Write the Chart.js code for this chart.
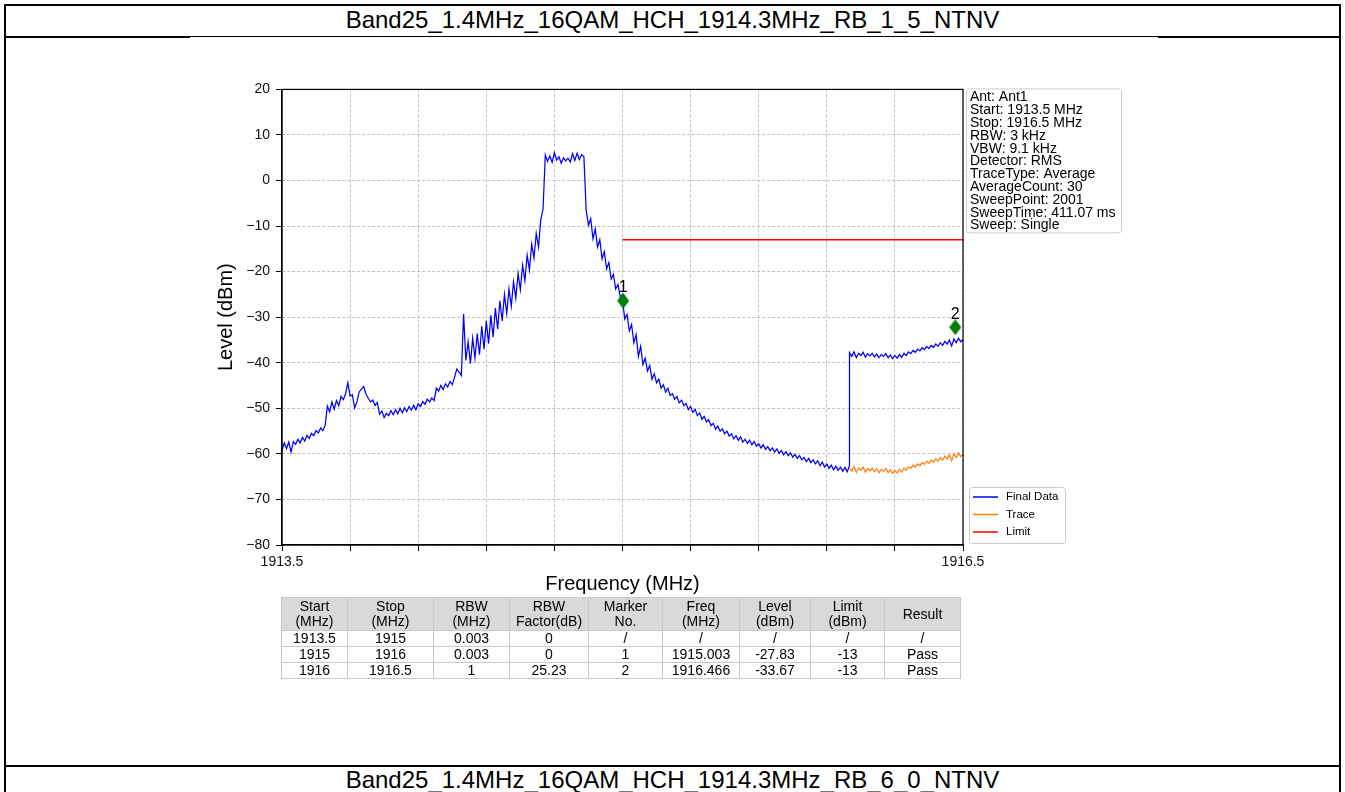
<!DOCTYPE html>
<html>
<head>
<meta charset="utf-8">
<script src="https://cdn.jsdelivr.net/npm/chart.js@4.4.0/dist/chart.umd.min.js"></script>
<style>
  html, body { margin: 0; padding: 0; background: #fff; }
  body { width: 1345px; height: 792px; position: relative; overflow: hidden; font-family: "Liberation Sans", Arial, sans-serif; }
  .line { position: absolute; background: #000; }
  .title { position: absolute; left: 0; width: 1345px; text-align: center; font-size: 24px; line-height: 26px; color: #000; }
  #chartBox { position: absolute; left: 200px; top: 75px; width: 940px; height: 530px; }
  #tbl { position: absolute; left: 281px; top: 597px; border-collapse: collapse; table-layout: fixed; font-size: 14px; color: #000; }
  #tbl th, #tbl td { border: 1px solid #c8c8c8; text-align: center; padding: 0; white-space: pre; }
  #tbl th { background: #d9d9d9; font-weight: normal; height: 32px; line-height: 15px; }
  #tbl td { height: 15px; line-height: 15px; }
</style>
</head>
<body>
<div class="line" style="left:4px;top:4px;width:1337px;height:2px"></div>
<div class="line" style="left:4px;top:4px;width:2px;height:788px"></div>
<div class="line" style="left:1339px;top:4px;width:2px;height:788px"></div>
<div class="line" style="left:4px;top:36px;width:1337px;height:1px"></div>
<div class="line" style="left:4px;top:36px;width:186px;height:2px"></div>
<div class="line" style="left:1158px;top:36px;width:183px;height:2px"></div>
<div class="line" style="left:4px;top:765px;width:1337px;height:2px"></div>
<div class="title" id="topTitle" style="top:7px"></div>
<div class="title" id="bottomTitle" style="top:767px"></div>
<div id="chartBox"><canvas id="chart" width="940" height="530"></canvas></div>
<table id="tbl"></table>
<script>
const topTitle = 'Band25_1.4MHz_16QAM_HCH_1914.3MHz_RB_1_5_NTNV';
const bottomTitle = 'Band25_1.4MHz_16QAM_HCH_1914.3MHz_RB_6_0_NTNV';

// sweep segments (MHz), one per table row
const segStart = [1913.5, 1915, 1916];
const segStop = [1915, 1916, 1916.5];

// Final Data levels (dBm), 0.01 MHz apart
const finalSeg1 = [
  -59.2, -57.6, -58.8, -57.4, -59.6, -57.3, -57.9, -56.8, -57.6, -56.4,
  -57.2, -55.9, -56.6, -55.5, -56.0, -54.9, -55.4, -54.3, -54.9, -53.8,
  -49.5, -50.8, -48.6, -50.2, -48.3, -49.4, -47.4, -48.1, -46.8, -44.4,
  -47.3, -47.0, -49.9, -48.6, -46.4, -45.8, -45.2, -46.9, -47.8, -48.6,
  -48.2, -49.4, -48.7, -51.3, -50.6, -52.0, -51.1, -51.6, -50.5, -51.4,
  -50.3, -51.2, -50.0, -51.0, -49.9, -50.7, -49.6, -50.4, -49.3, -50.3,
  -49.0, -49.6, -48.5, -49.1, -48.0, -48.6, -47.7, -48.3, -45.6, -46.2,
  -45.0, -45.9, -44.6, -45.3, -44.1, -44.8, -43.2, -41.4, -42.0, -42.8,
  -29.3, -39.5, -35.4, -40.2, -34.6, -39.0, -33.6, -38.2, -32.0, -37.0,
  -30.8, -35.8, -29.6, -34.4, -28.0, -32.6, -26.4, -30.8, -25.0, -29.2,
  -23.8, -27.6, -22.2, -25.8, -20.4, -24.0, -18.6, -22.0, -16.4, -19.6,
  -14.0, -17.0, -11.6, -14.6, -8.6, -6.2, 5.6, 4.2, 5.4, 4.0,
  6.1, 4.5, 5.2, 3.8, 5.0, 4.3, 4.9, 4.1, 5.9, 4.4,
  6.0, 4.6, 5.7, 5.2, -6.5, -9.8, -8.4, -12.8, -10.6, -14.6,
  -13.0, -17.2, -15.6, -19.4, -18.0, -21.6, -20.6, -23.8, -22.8, -25.6, -25.0
];
const finalSeg2 = [
  -26.2, -30.4, -29.4, -33.0, -31.6, -35.6, -33.8, -38.6, -36.4, -40.4,
  -39.0, -41.8, -40.6, -43.6, -42.4, -44.4, -43.6, -45.6, -44.8, -46.4,
  -45.6, -47.2, -46.8, -48.0, -47.4, -48.8, -48.2, -49.4, -48.9, -50.3,
  -49.6, -50.9, -50.2, -51.6, -51.0, -52.4, -51.8, -53.0, -52.5, -53.8,
  -53.3, -54.6, -53.9, -55.0, -54.5, -55.6, -55.0, -56.1, -55.6, -56.7,
  -56.0, -57.0, -56.3, -57.4, -56.8, -57.7, -57.0, -58.0, -57.3, -58.3,
  -57.8, -58.7, -58.0, -59.0, -58.4, -59.3, -58.7, -59.6, -58.9, -59.9,
  -59.3, -60.2, -59.5, -60.4, -59.8, -60.7, -60.1, -61.0, -60.4, -61.3,
  -60.8, -61.7, -61.0, -61.9, -61.3, -62.2, -61.5, -62.6, -61.8, -62.9,
  -62.2, -63.2, -62.5, -63.5, -62.7, -63.6, -62.9, -63.8, -63.0, -63.9,
  -62.6
];
const finalSeg3 = [
  -37.8, -38.6, -37.6, -38.9, -37.9, -38.4, -37.7, -38.8, -38.0, -38.5,
  -37.9, -38.7, -38.1, -38.9, -38.2, -38.6, -38.0, -38.9, -38.3, -39.1,
  -38.4, -39.0, -38.2, -38.8, -37.9, -38.4, -37.6, -38.0, -37.3, -37.7,
  -37.0, -37.4, -36.7, -37.1, -36.4, -36.9, -36.2, -36.6, -35.9, -36.4,
  -35.6, -36.2, -35.3, -35.9, -35.0, -36.3, -34.8, -35.6, -34.6, -35.4, -34.9
];
// raw Trace in the last segment (dBm)
const traceSeg3 = [
  -63.1, -63.8, -62.8, -64.1, -63.1, -63.6, -62.9, -64.0, -63.2, -63.7,
  -63.1, -63.9, -63.3, -64.1, -63.4, -63.8, -63.2, -64.1, -63.5, -64.3,
  -63.6, -64.2, -63.4, -64.0, -63.1, -63.6, -62.8, -63.2, -62.5, -62.9,
  -62.2, -62.6, -61.9, -62.3, -61.6, -62.1, -61.4, -61.8, -61.1, -61.6,
  -60.8, -61.4, -60.5, -61.1, -60.2, -61.5, -60.0, -60.8, -59.8, -60.6, -60.1
];

const limitFreq = [1915, 1916.5];
const limitLevel = [-13, -13];

const markerFreq = [1915.003, 1916.466];
const markerLevel = [-26.4, -32.2];
const markerNo = ['1', '2'];

const xTicks = [1913.5, 1913.8, 1914.1, 1914.4, 1914.7, 1915.0, 1915.3, 1915.6, 1915.9, 1916.2, 1916.5];
const xTickLabels = ['1913.5', '', '', '', '', '', '', '', '', '', '1916.5'];

const infoLines = [
  'Ant: Ant1', 'Start: 1913.5 MHz', 'Stop: 1916.5 MHz', 'RBW: 3 kHz', 'VBW: 9.1 kHz',
  'Detector: RMS', 'TraceType: Average', 'AverageCount: 30', 'SweepPoint: 2001',
  'SweepTime: 411.07 ms', 'Sweep: Single'
];
const legendNames = ['Final Data', 'Trace', 'Limit'];
const legendColors = ['#0000ff', '#ff7f0e', '#ff0000'];

// table
const colHeads = ['Start\n(MHz)', 'Stop\n(MHz)', 'RBW\n(MHz)', 'RBW\nFactor(dB)', 'Marker\nNo.', 'Freq\n(MHz)', 'Level\n(dBm)', 'Limit\n(dBm)', 'Result'];
const colWidths = [66, 86, 76, 79, 74, 77, 71, 74, 76];
const rowStart = ['1913.5', '1915', '1916'];
const rowStop = ['1915', '1916', '1916.5'];
const rowRbw = ['0.003', '0.003', '1'];
const rowFactor = ['0', '0', '25.23'];
const rowMarker = ['/', '1', '2'];
const rowFreq = ['/', '1915.003', '1916.466'];
const rowLevel = ['/', '-27.83', '-33.67'];
const rowLimit = ['/', '-13', '-13'];
const rowResult = ['/', 'Pass', 'Pass'];

document.getElementById('topTitle').textContent = topTitle;
document.getElementById('bottomTitle').textContent = bottomTitle;

const tbl = document.getElementById('tbl');
let html = '<colgroup>' + colWidths.map(w => `<col style="width:${w}px">`).join('') + '</colgroup>';
html += '<tr>' + colHeads.map(h => `<th>${h}</th>`).join('') + '</tr>';
const cols = [rowStart, rowStop, rowRbw, rowFactor, rowMarker, rowFreq, rowLevel, rowLimit, rowResult];
for (let r = 0; r < rowStart.length; r++) {
  html += '<tr>' + cols.map(c => `<td>${c[r]}</td>`).join('') + '</tr>';
}
tbl.innerHTML = html;

function sweep(start, stop, levels) {
  return levels.map((v, i) => ({ x: start + (stop - start) * i / (levels.length - 1), y: v }));
}

const finalData = [
  ...sweep(segStart[0], segStop[0], finalSeg1),
  ...sweep(segStart[1], segStop[1], finalSeg2),
  ...sweep(segStart[2], segStop[2], finalSeg3)
];
const traceData = sweep(segStart[2], segStop[2], traceSeg3);
const limitData = limitFreq.map((f, i) => ({ x: f, y: limitLevel[i] }));
const markerData = markerFreq.map((f, i) => ({ x: f, y: markerLevel[i] }));

function diamond(w, h, color) {
  const c = document.createElement('canvas');
  c.width = w; c.height = h;
  const g = c.getContext('2d');
  g.fillStyle = color;
  g.beginPath();
  g.moveTo(w / 2, 0); g.lineTo(w, h / 2); g.lineTo(w / 2, h); g.lineTo(0, h / 2);
  g.closePath();
  g.fill();
  return c;
}

const FONT = '"Liberation Sans", Arial, sans-serif';
Chart.defaults.font.family = FONT;
Chart.defaults.color = '#111';

const overlay = {
  id: 'overlay',
  afterDatasetsDraw(chart) {
    const { ctx, chartArea: a, scales: { x, y } } = chart;
    ctx.save();
    ctx.strokeStyle = '#000';
    ctx.lineWidth = 1.2;
    ctx.strokeRect(a.left, a.top, a.right - a.left, a.bottom - a.top);

    ctx.fillStyle = '#000';
    ctx.font = '16px ' + FONT;
    ctx.textAlign = 'center';
    ctx.textBaseline = 'middle';
    markerFreq.forEach((f, i) => {
      ctx.fillText(markerNo[i], x.getPixelForValue(f), y.getPixelForValue(markerLevel[i]) - 13);
    });
    ctx.restore();
  },
  afterDraw(chart) {
    const ctx = chart.ctx;
    const a = chart.chartArea;
    ctx.save();
    // info box
    const bx = a.right + 3, by = a.top - 1, bw = 155, bh = 144;
    ctx.beginPath();
    ctx.roundRect(bx + 0.5, by + 0.5, bw, bh, 3);
    ctx.fillStyle = 'rgba(255,255,255,0.9)';
    ctx.fill();
    ctx.strokeStyle = '#cccccc';
    ctx.lineWidth = 1;
    ctx.stroke();
    ctx.fillStyle = '#000';
    ctx.font = '14px ' + FONT;
    ctx.textAlign = 'left';
    ctx.textBaseline = 'alphabetic';
    infoLines.forEach((t, i) => ctx.fillText(t, bx + 4, by + 13 + i * 12.8));

    // legend
    const lx = a.right + 6, ly = a.bottom - 58, lw = 96, lh = 56;
    ctx.beginPath();
    ctx.roundRect(lx + 0.5, ly + 0.5, lw, lh, 3);
    ctx.fillStyle = 'rgba(255,255,255,0.9)';
    ctx.fill();
    ctx.strokeStyle = '#cccccc';
    ctx.stroke();
    ctx.font = '11.5px ' + FONT;
    ctx.textBaseline = 'middle';
    legendNames.forEach((n, i) => {
      const yy = ly + 10 + i * 17.5;
      ctx.strokeStyle = legendColors[i];
      ctx.lineWidth = 1.5;
      ctx.beginPath();
      ctx.moveTo(lx + 4, yy);
      ctx.lineTo(lx + 29, yy);
      ctx.stroke();
      ctx.fillStyle = '#000';
      ctx.fillText(n, lx + 37, yy);
    });
    ctx.restore();
  }
};

new Chart(document.getElementById('chart'), {
  type: 'line',
  data: {
    datasets: [
      { label: 'Markers', data: markerData, showLine: false, pointStyle: diamond(12, 16, '#008000'),
        pointRadius: 7, pointHoverRadius: 7, order: 0 },
      { label: 'Final Data', data: finalData, borderColor: legendColors[0], borderWidth: 1.25,
        pointRadius: 0, tension: 0, order: 1 },
      { label: 'Trace', data: traceData, borderColor: legendColors[1], borderWidth: 1.25,
        pointRadius: 0, tension: 0, order: 2 },
      { label: 'Limit', data: limitData, borderColor: legendColors[2], borderWidth: 1.4,
        pointRadius: 0, tension: 0, order: 3 }
    ]
  },
  options: {
    responsive: false,
    animation: false,
    devicePixelRatio: 1,
    layout: { padding: { left: 0, top: 13, right: 177, bottom: 0 } },
    plugins: { legend: { display: false }, tooltip: { enabled: false } },
    scales: {
      x: {
        type: 'linear',
        min: 1913.5,
        max: 1916.5,
        afterFit: s => { s.height = 60; },
        afterBuildTicks: s => { s.ticks = xTicks.map(v => ({ value: v })); },
        ticks: {
          autoSkip: false,
          maxRotation: 0,
          padding: 3,
          font: { size: 14 },
          callback: (v, i) => xTickLabels[i]
        },
        grid: { color: '#b3b3b3', lineWidth: 0.8, tickColor: '#000', tickLength: 6, tickWidth: 1 },
        border: { color: '#000', width: 1.2, dash: [3, 2] },
        title: { display: true, text: 'Frequency (MHz)', font: { size: 20 }, color: '#000', padding: { top: 0, bottom: 9 } }
      },
      y: {
        min: -80,
        max: 20,
        afterFit: s => { s.width = 82; },
        ticks: {
          stepSize: 10,
          padding: 6,
          font: { size: 14 },
          callback: v => (v < 0 ? '\u2212' + Math.abs(v) : String(v))
        },
        grid: { color: '#b3b3b3', lineWidth: 0.8, tickColor: '#000', tickLength: 6, tickWidth: 1 },
        border: { color: '#000', width: 1.2, dash: [3, 2] },
        title: { display: true, text: 'Level (dBm)', font: { size: 20 }, color: '#000', padding: { top: 14, bottom: 0 } }
      }
    }
  },
  plugins: [overlay]
});
</script>
</body>
</html>
